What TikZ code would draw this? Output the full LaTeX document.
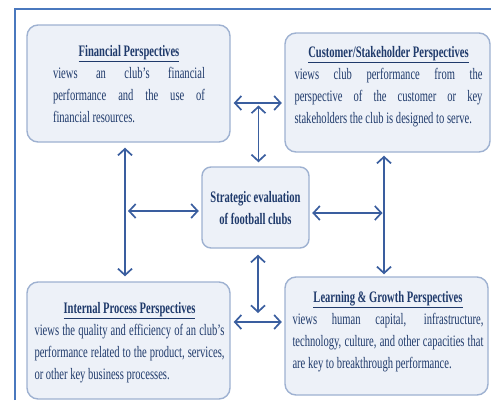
\documentclass[tikz,border=0pt]{standalone}
\usepackage{fontspec}
\setmainfont{Liberation Serif}[FakeStretch=0.66]
\usetikzlibrary{arrows.meta}
\definecolor{framec}{HTML}{4A78BE}
\definecolor{boxfill}{HTML}{EDF1F8}
\definecolor{boxline}{HTML}{9EB1D1}
\definecolor{arrowc}{HTML}{3A5E9F}
\definecolor{inkc}{HTML}{1F3A6B}
\hbadness=10000
\tolerance=9999
% title (centred, underlined) followed by a justified description
\newcommand{\perspective}[3]{\parbox[t]{#1}{{\centering\textbf{\underline{#2}}\par}#3}}

\begin{document}
\begin{tikzpicture}[x=1pt,y=-1pt,
  panel/.style={draw=boxline, line width=1.4pt, fill=boxfill, rounded corners=11pt, inner sep=0pt},
  panetext/.style={inner sep=0pt, text=inkc, font=\fontsize{16}{22}\selectfont},
  link/.style={draw=arrowc, line width=1.7pt,
    {Straight Barb[length=6.5pt,width=14pt]}-{Straight Barb[length=6.5pt,width=14pt]}},
  ]
\useasboundingbox (0,0) rectangle (491,400);

% outer frame
\draw[framec, line width=1.2pt] (15,400) -- (15,9) -- (491,9);

% perspective panels
\node[panel, minimum width=203pt, minimum height=117pt] (fin) at (128.5,83.5) {};
\node[panel, minimum width=205pt, minimum height=119pt] (cust) at (387.5,92.5) {};
\node[panel, minimum width=203pt, minimum height=117pt] (int) at (128.5,340.5) {};
\node[panel, minimum width=203pt, minimum height=118pt] (learn) at (386.5,336) {};
\node[panel, minimum width=107pt, minimum height=81pt, rounded corners=9pt] (cen) at (255.5,207.5) {};

% panel texts
\node[panetext, anchor=base] (finT) at (129,56)
  {\perspective{152pt}{Financial Perspectives}{views an club's financial\linebreak performance and the use of\linebreak financial resources.}};
\node[panetext, anchor=base] (custT) at (388.5,57)
  {\perspective{188pt}{Customer/Stakeholder Perspectives}{views club performance from the\linebreak perspective of the customer or key\linebreak stakeholders the club is designed to serve.}};
\node[panetext, anchor=base] (intT) at (129.5,313)
  {\perspective{190pt}{Internal Process Perspectives}{views the quality and efficiency of an club's\linebreak performance related to the product, services,\linebreak or other key business processes.}};
\node[panetext, anchor=base] (learnT) at (388,302)
  {\perspective{191pt}{Learning \& Growth Perspectives}{views human capital, infrastructure,\linebreak technology, culture, and other capacities that\linebreak are key to breakthrough performance.}};
\node[panetext, align=center, font=\fontsize{16}{22}\selectfont\bfseries] (cenT) at (255.5,208.5)
  {Strategic evaluation\\of football clubs};

% junction points on the links
\coordinate (lx) at (125,0);
\coordinate (rx) at (384,0);
\coordinate (ty) at (0,103);
\coordinate (by) at (0,322);
\coordinate (tj) at (258.5,103);
\coordinate (lj) at (125,211);
\coordinate (rj) at (384,213);
\coordinate (bj) at (258,322);

% links
\draw[link, shorten <=3pt, shorten >=2.5pt] (fin.east |- ty) -- (cust.west |- ty);
\draw[link, shorten <=3pt, shorten >=2.5pt] (int.east |- by) -- (learn.west |- by);
\draw[link, shorten <=2.5pt, shorten >=4pt] (tj) -- (cen.north -| tj);
\draw[link, shorten <=6pt, shorten >=9pt] (cen.south -| bj) -- (bj);
\draw[link, shorten <=5pt, shorten >=5pt] (fin.south -| lx) -- (int.north -| lx);
\draw[link, shorten <=3pt, shorten >=2pt] (cust.south -| rx) -- (learn.north -| rx);
\draw[link, shorten <=3pt, shorten >=2.5pt] (lj) -- (cen.west |- lj);
\draw[link, shorten <=2.5pt, shorten >=1.5pt] (cen.east |- rj) -- (rj);
\end{tikzpicture}
\end{document}
